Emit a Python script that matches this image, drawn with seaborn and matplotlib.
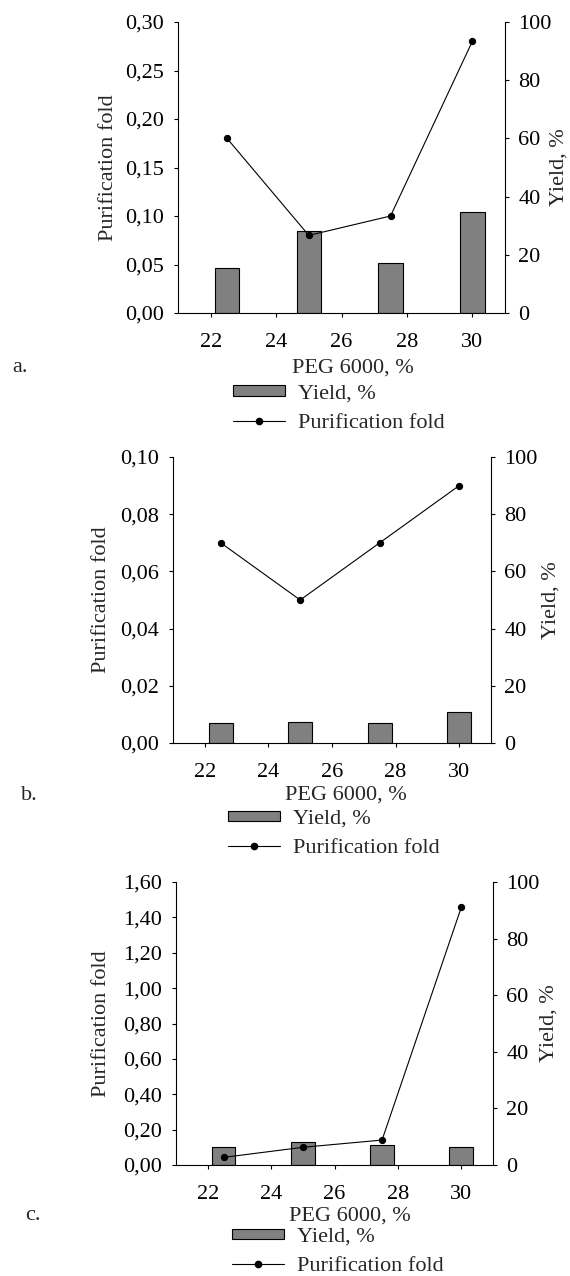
import matplotlib
matplotlib.use("Agg")
import matplotlib.pyplot as plt
import seaborn as sns
import pandas as pd
from matplotlib.lines import Line2D
from matplotlib.patches import Patch
from matplotlib.ticker import FuncFormatter

# ---------------- data ----------------
peg = [22.5, 25.0, 27.5, 30.0]

fold_a = [0.18, 0.08, 0.10, 0.28]
yield_a = [15.3, 28.1, 17.1, 34.6]

fold_b = [0.07, 0.05, 0.07, 0.09]
yield_b = [7.0, 7.3, 7.1, 10.8]

fold_c = [0.043, 0.10, 0.141, 1.457]
yield_c = [6.2, 8.0, 7.2, 6.5]

x_ticks = [22, 24, 26, 28, 30]
fold_ticks_a = [0.00, 0.05, 0.10, 0.15, 0.20, 0.25, 0.30]
fold_ticks_b = [0.00, 0.02, 0.04, 0.06, 0.08, 0.10]
fold_ticks_c = [0.00, 0.20, 0.40, 0.60, 0.80, 1.00, 1.20, 1.40, 1.60]
yield_ticks = [0, 20, 40, 60, 80, 100]

panel_letters = ["a.", "b.", "c."]
x_label = "PEG 6000, %"
fold_label = "Purification fold"
yield_label = "Yield, %"
bar_legend = "Yield, %"
line_legend = "Purification fold"

# ---------------- style ----------------
W, H = 570, 1276
sns.set_theme(style="ticks")
plt.rcParams["font.family"] = ["Liberation Serif", "DejaVu Serif"]
plt.rcParams["font.size"] = 16
plt.rcParams["axes.linewidth"] = 0.8

BAR_COLOR = "#808080"
FS = 16

fig = plt.figure(figsize=(W / 100, H / 100), dpi=100)

# layout in pixels (left, right, top, bottom) etc.
panels = [
    dict(fold=fold_a, yld=yield_a, fticks=fold_ticks_a, box=(178, 505, 22, 313),
         xlab=(353, 368), ylab=108, rlab=559, letter=(12, 368), leg=(233, 408.5)),
    dict(fold=fold_b, yld=yield_b, fticks=fold_ticks_b, box=(173, 491, 457, 743),
         xlab=(346, 795), ylab=102, rlab=551, letter=(21, 795), leg=(228, 834)),
    dict(fold=fold_c, yld=yield_c, fticks=fold_ticks_c, box=(176, 493, 882, 1165),
         xlab=(350, 1216), ylab=101.5, rlab=549, letter=(25, 1216), leg=(232, 1252)),
]

comma_fmt = FuncFormatter(lambda v, p: f"{v:.2f}".replace(".", ","))

for i, p in enumerate(panels):
    l, r, t, b = p["box"]
    ax = fig.add_axes([l / W, 1 - b / H, (r - l) / W, (b - t) / H])
    ax2 = ax.twinx()

    df = pd.DataFrame({"peg": peg, "yield": p["yld"], "fold": p["fold"]})

    sns.barplot(data=df, x="peg", y="yield", native_scale=True, width=0.3,
                color=BAR_COLOR, saturation=1, edgecolor="black", linewidth=0.8,
                errorbar=None, ax=ax2)
    sns.lineplot(data=df, x="peg", y="fold", color="black", linewidth=0.8,
                 marker="o", markersize=4.5, markeredgecolor="black",
                 markerfacecolor="black", ax=ax)

    ax.set_zorder(ax2.get_zorder() + 1)
    ax.patch.set_visible(False)

    ax.set_xlim(21, 31)
    ax.set_xticks(x_ticks)
    ax.set_xticklabels([str(v) for v in x_ticks])
    ax.set_ylim(p["fticks"][0], p["fticks"][-1])
    ax.set_yticks(p["fticks"])
    ax.yaxis.set_major_formatter(comma_fmt)
    ax2.set_ylim(0, 100)
    ax2.set_yticks(yield_ticks)
    ax2.set_yticklabels([str(v) for v in yield_ticks])

    for s in ["top", "right"]:
        ax.spines[s].set_visible(False)
    for s in ["top", "left", "bottom"]:
        ax2.spines[s].set_visible(False)
    for a in (ax, ax2):
        for s in a.spines.values():
            s.set_linewidth(0.8)
            s.set_color("black")

    ax.tick_params(axis="x", direction="out", length=3, width=0.8, pad=11.5,
                   labelsize=FS, colors="black")
    ax.tick_params(axis="y", direction="out", length=3, width=0.8, pad=7,
                   labelsize=FS, colors="black")
    ax2.tick_params(axis="y", direction="out", length=3, width=0.8, pad=6.5,
                    labelsize=FS, colors="black")

    # axis labels
    ax.set_xlabel(x_label, fontsize=FS)
    ax.xaxis.set_label_coords((p["xlab"][0] - l) / (r - l), (b - p["xlab"][1]) / (b - t))
    ax.xaxis.label.set_va("center")
    ax.set_ylabel(fold_label, fontsize=FS)
    ax.yaxis.set_label_coords((p["ylab"] - l) / (r - l), 0.5)
    ax.yaxis.label.set_va("center")
    ax2.set_ylabel(yield_label, fontsize=FS)
    ax2.yaxis.set_label_coords((p["rlab"] - l) / (r - l), 0.5)
    ax2.yaxis.label.set_va("center")

    # panel letter
    fig.text(p["letter"][0] / W, 1 - p["letter"][1] / H, panel_letters[i],
             ha="left", va="center", fontsize=FS)

    # legend
    handles = [
        Patch(facecolor=BAR_COLOR, edgecolor="black", linewidth=0.8),
        Line2D([], [], color="black", linewidth=0.8, marker="o", markersize=4.5),
    ]
    fig.legend(handles, [bar_legend, line_legend], loc="center left",
               bbox_to_anchor=(p["leg"][0] / W, 1 - p["leg"][1] / H),
               frameon=False, borderpad=0, borderaxespad=0,
               handlelength=2.36, handleheight=0.36, handletextpad=0.55,
               labelspacing=0.45, fontsize=FS)

fig.savefig("out.png", dpi=100)
